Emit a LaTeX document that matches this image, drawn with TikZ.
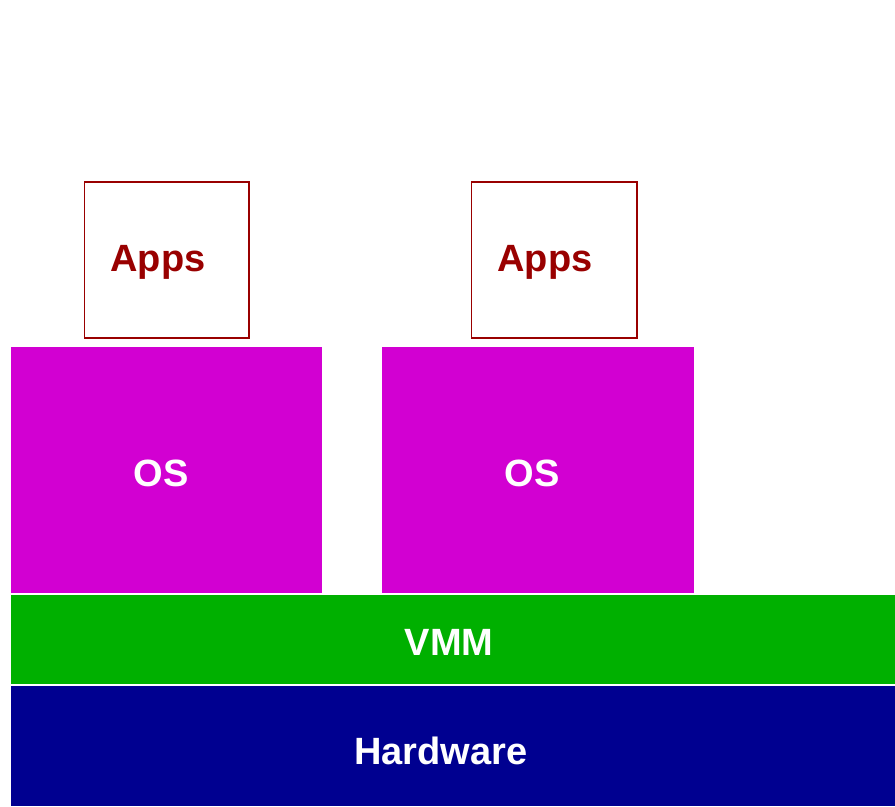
\documentclass[tikz,border=0pt]{standalone}
\usepackage{fontspec}
\setmainfont{Liberation Sans}
\definecolor{appsred}{RGB}{153,0,0}
\definecolor{osmagenta}{RGB}{210,0,210}
\definecolor{vmmgreen}{RGB}{0,176,0}
\definecolor{hwblue}{RGB}{0,0,144}
\tikzset{
  label text/.style={font=\fontsize{28.5}{30}\selectfont\bfseries, inner sep=0pt},
  apps box/.style={draw=appsred, line width=0.9pt, fill=white}
}
\begin{document}
\begin{tikzpicture}[x=0.75pt,y=0.75pt,yscale=-1,xscale=1]
\useasboundingbox (0,0) rectangle (895,806);

%Shape: Rectangle [hardware]
\fill [hwblue] (11,686) rectangle (895,806);
%Shape: Rectangle [vmm]
\fill [vmmgreen] (11,595) rectangle (895,684);
%Shape: Rectangle [guest os 1]
\fill [osmagenta] (11,347) rectangle (322,593);
%Shape: Rectangle [guest os 2]
\fill [osmagenta] (382,347) rectangle (694,593);
%Shape: Rectangle [apps 1]
\draw [apps box] (84.5,182) rectangle (249,338);
%Shape: Rectangle [apps 2]
\draw [apps box] (471.5,182) rectangle (637,338);

% Text Node
\node [label text, text=appsred] (apps1) at (158,262) {Apps};
% Text Node
\node [label text, text=appsred] (apps2) at (545,262) {Apps};
% Text Node
\node [label text, text=white] (os1) at (161,473) {OS};
% Text Node
\node [label text, text=white] (os2) at (532,473) {OS};
% Text Node
\node [label text, text=white] (vmm) at (449,642) {VMM};
% Text Node
\node [label text, text=white] (hw) at (441,751) {Hardware};

\end{tikzpicture}
\end{document}
